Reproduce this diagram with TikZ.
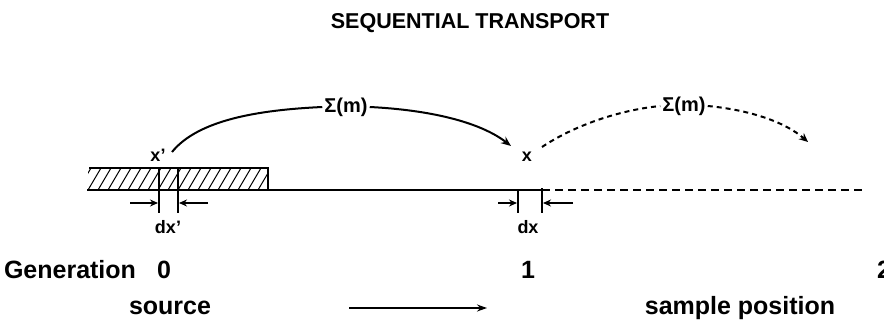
\documentclass[tikz,border=0pt]{standalone}
\usepackage{fontspec}
\setmainfont{Liberation Sans}
\usetikzlibrary{arrows.meta}
\begin{document}
\begin{tikzpicture}[x=1pt,y=-1pt,
  titletext/.style={font=\bfseries\fontsize{21.5}{24}\selectfont, inner sep=0pt},
  bigtext/.style={font=\bfseries\fontsize{25}{28}\selectfont, inner sep=0pt},
  smalltext/.style={font=\bfseries\fontsize{18}{20}\selectfont, inner sep=0pt},
  labtext/.style={font=\bfseries\fontsize{20}{22}\selectfont, inner sep=2pt},
  baseline/.style={line width=2.2pt},
  dashbase/.style={line width=2.2pt, dash pattern=on 8pt off 5pt},
  hatch/.style={line width=1pt},
  tick/.style={line width=1.8pt},
  dimarrow/.style={line width=1.8pt, -{Stealth[length=8pt,width=7pt]}},
  jump/.style={line width=2pt, -{Stealth[length=10pt,width=8pt]}},
  dashjump/.style={line width=2pt, dash pattern=on 5pt off 4pt, -{Stealth[length=9pt,width=8pt,open]}},
  flowarrow/.style={line width=1.5pt, -{Stealth[length=10pt,width=7pt]}}
]
\useasboundingbox (0,0) rectangle (884,329);

% title
\node[titletext] (title) at (470,23) {SEQUENTIAL TRANSPORT};

% hatched source bar
\begin{scope}
  \clip (88,168) rectangle (268,190);
  \foreach \k in {0,...,19} {
    \draw[hatch] ({78+10*\k},190) -- ({91+10*\k},168);
  }
\end{scope}
\coordinate (barTL) at (89,168);
\coordinate (barTR) at (268,168);
\coordinate (barBR) at (268,190);
\draw[baseline] (barTL) -- (barTR) -- (barBR);

% axis line
\coordinate (axL) at (87,190);
\coordinate (axM) at (542,190);
\coordinate (axR) at (864,190);
\draw[baseline] (axL) -- (axM);
\draw[dashbase] (axM) -- (axR);

% dx' ticks and arrows
\coordinate (t1a) at (159,167);
\coordinate (t1b) at (159,213);
\coordinate (t2a) at (178,167);
\coordinate (t2b) at (178,213);
\draw[tick] (t1a) -- (t1b);
\draw[tick] (t2a) -- (t2b);
\coordinate (a1s) at (130,203);
\coordinate (a1e) at (158,203);
\coordinate (a2s) at (208,203);
\coordinate (a2e) at (179,203);
\draw[dimarrow] (a1s) -- (a1e);
\draw[dimarrow] (a2s) -- (a2e);

% dx ticks and arrows
\coordinate (t3a) at (518,190);
\coordinate (t3b) at (518,213);
\coordinate (t4a) at (542,188);
\coordinate (t4b) at (542,213);
\draw[tick] (t3a) -- (t3b);
\draw[tick] (t4a) -- (t4b);
\coordinate (a3s) at (498,203);
\coordinate (a3e) at (517,203);
\coordinate (a4s) at (573,203);
\coordinate (a4e) at (543,203);
\draw[dimarrow] (a3s) -- (a3e);
\draw[dimarrow] (a4s) -- (a4e);

% position labels
\node[smalltext] (xp) at (158,155) {x'};
\node[smalltext] (xx) at (527,157) {x};
\node[smalltext] (dxp) at (168,227) {dx'};
\node[smalltext] (dx) at (528,227) {dx};

% jump labels
\node[labtext] (lab1) at (346,107) {Σ(m)};
\node[labtext] (lab2) at (684,106) {Σ(m)};

% solid jump
\coordinate (c1) at (172,152);
\coordinate (tip1) at (511,146);
\draw[line width=2pt] (c1) .. controls (198,120) and (258,110) .. (lab1.west);
\draw[jump] (lab1.east) .. controls (430,110) and (480,122) .. (tip1);

% dashed jump
\coordinate (c2) at (542,147);
\coordinate (tip2) at (808,142);
\draw[line width=2pt, dash pattern=on 5pt off 4pt] (c2) .. controls (575,125) and (620,110) .. (lab2.west);
\draw[dashjump] (lab2.east) .. controls (750,110) and (785,122) .. (tip2);

% generation row
\node[bigtext] (gen) at (70,270) {Generation};
\node[bigtext] (g0) at (164,270) {0};
\node[bigtext] (g1) at (528,270) {1};
\node[bigtext, anchor=west] (g2) at (877,270) {2};

% bottom row
\node[bigtext] (src) at (170,308) {source};
\node[bigtext] (smp) at (740,308) {sample position};
\coordinate (fa) at (349,308);
\coordinate (fb) at (487,308);
\draw[flowarrow] (fa) -- (fb);
\end{tikzpicture}
\end{document}
